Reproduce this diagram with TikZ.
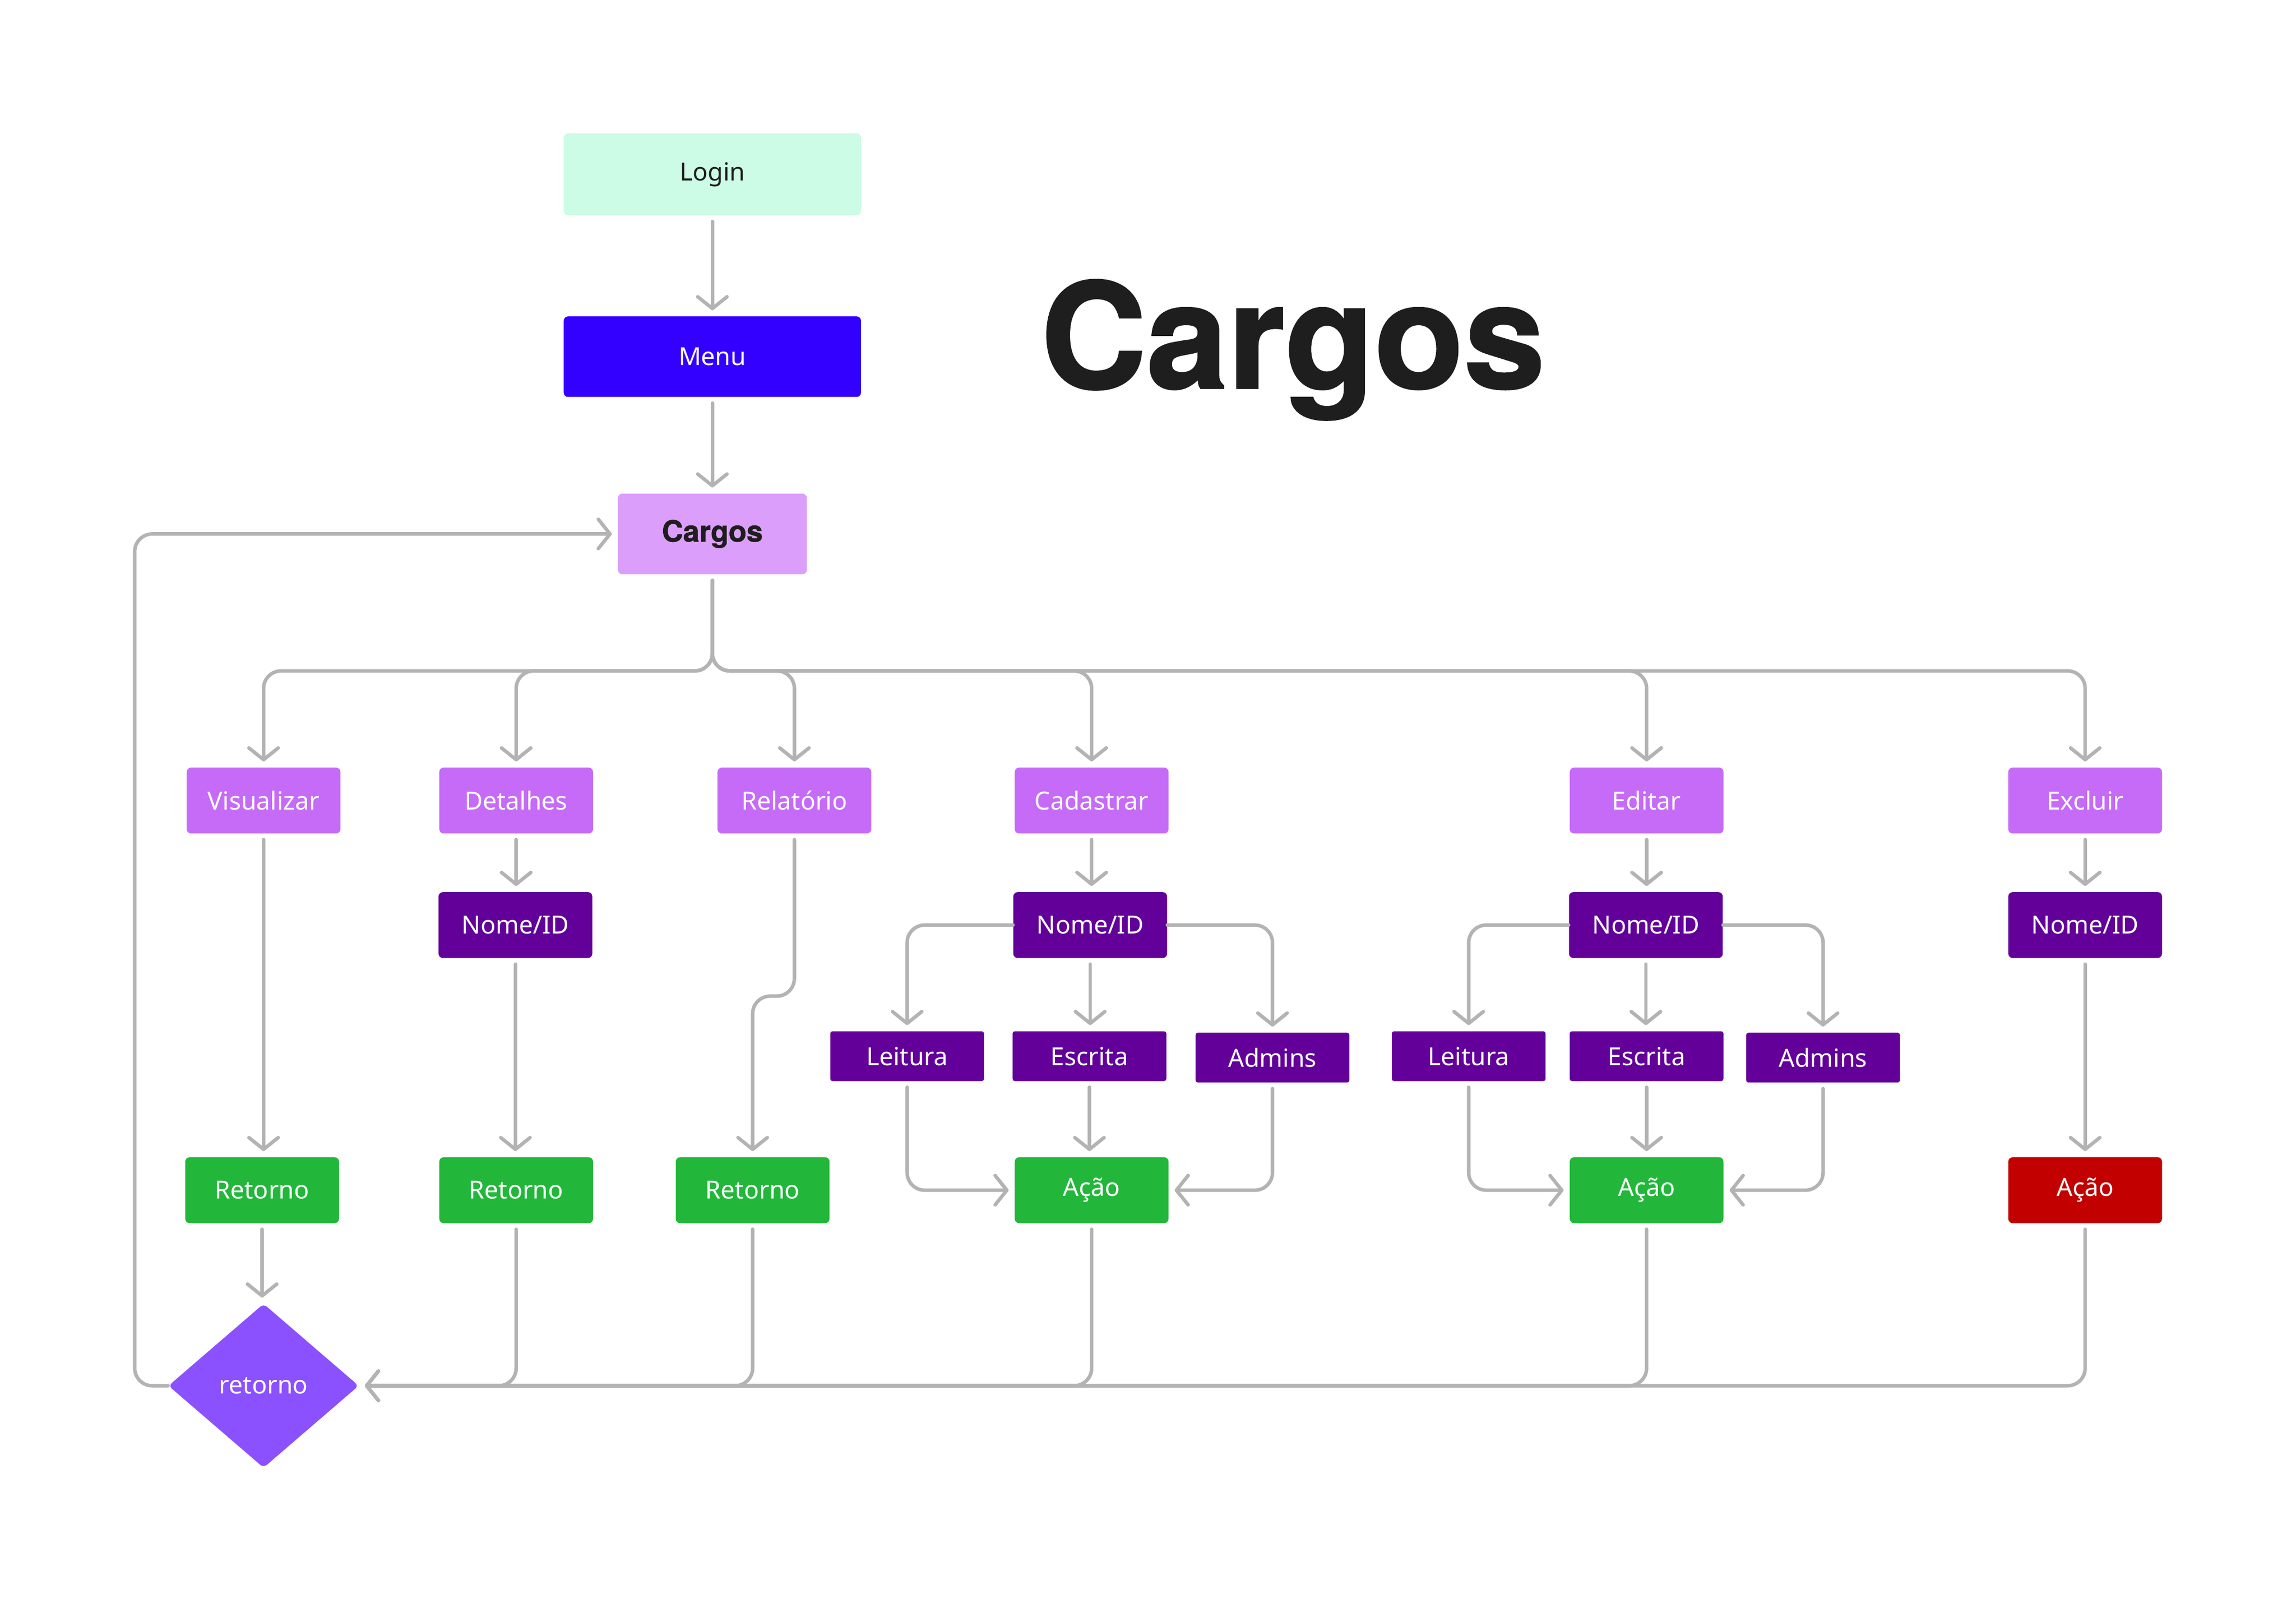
\documentclass[tikz,border=0pt]{standalone}
\usepackage{fontspec}
\setmainfont{Noto Sans}
\newfontfamily\titlefont{TeX Gyre Heros}[BoldFeatures={FakeBold=1.2}]
\usetikzlibrary{arrows.meta,shapes.geometric}
\definecolor{loginfill}{HTML}{CCFCE5}
\definecolor{menufill}{HTML}{3300FF}
\definecolor{cargosfill}{HTML}{DC9EFB}
\definecolor{midpurple}{HTML}{C56BF7}
\definecolor{darkpurple}{HTML}{620099}
\definecolor{okgreen}{HTML}{22B73A}
\definecolor{badred}{HTML}{C20000}
\definecolor{diamondfill}{HTML}{8B51FF}
\definecolor{linegray}{HTML}{B3B3B3}
\definecolor{inkdark}{HTML}{1E1E1E}
\begin{document}
\begin{tikzpicture}[x=1pt,y=-1pt,
  box/.style={rectangle, rounded corners=3pt, inner sep=0pt, minimum width=105pt, minimum height=45pt,
    text=white, font=\fontsize{17}{20}\selectfont},
  topbox/.style={box, minimum width=203pt, minimum height=56pt},
  midbox/.style={box, fill=midpurple},
  idbox/.style={box, fill=darkpurple},
  rolebox/.style={box, fill=darkpurple, minimum height=34pt, rounded corners=1.5pt},
  okbox/.style={box, fill=okgreen},
  redbox/.style={box, fill=badred},
  conn/.style={draw=linegray, line width=2.4pt, line cap=round, rounded corners=12pt,
    -{Straight Barb[length=8pt,width=20pt,round]}, shorten >=4pt, shorten <=4pt}
]
\useasboundingbox (0,0) rectangle (1568,1094);
\fill[white] (0,0) rectangle (1568,1094);

% title
\node[anchor=base, text=inkdark, font=\titlefont\bfseries\fontsize{100}{120}\selectfont, inner sep=0pt] (title) at (883,265) {Cargos};

% top chain
\node[topbox, fill=loginfill, text=inkdark] (login) at (486.5,119) {Login};
\node[topbox, fill=menufill, minimum height=55pt] (menu) at (486.5,243.5) {Menu};
\node[box, fill=cargosfill, text=inkdark, minimum width=129pt, minimum height=55pt,
  font=\titlefont\bfseries\fontsize{20}{24}\selectfont] (cargos) at (486.5,364.5) {Cargos};

% second row
\node[midbox] (vis) at (180,546.5) {Visualizar};
\node[midbox] (det) at (352.5,546.5) {Detalhes};
\node[midbox] (rel) at (542.5,546.5) {Relatório};
\node[midbox] (cad) at (745.5,546.5) {Cadastrar};
\node[midbox] (edi) at (1124.5,546.5) {Editar};
\node[midbox] (exc) at (1424,546.5) {Excluir};

% Nome/ID row
\node[idbox] (nd) at (352,631.5) {Nome/ID};
\node[idbox] (nc) at (744.5,631.5) {Nome/ID};
\node[idbox] (ne) at (1124,631.5) {Nome/ID};
\node[idbox] (nx) at (1424,631.5) {Nome/ID};

% role rows
\node[rolebox] (lc) at (619.5,721) {Leitura};
\node[rolebox] (ec) at (744,721) {Escrita};
\node[rolebox] (adc) at (869,722) {Admins};
\node[rolebox] (le) at (1003,721) {Leitura};
\node[rolebox] (ee) at (1124.5,721) {Escrita};
\node[rolebox] (ade) at (1245,722) {Admins};

% bottom row
\node[okbox] (r1) at (179,812.5) {Retorno};
\node[okbox] (r2) at (352.5,812.5) {Retorno};
\node[okbox] (r3) at (514,812.5) {Retorno};
\node[okbox] (ac1) at (745.5,812.5) {Ação};
\node[okbox] (ac2) at (1124.5,812.5) {Ação};
\node[redbox] (ac3) at (1424,812.5) {Ação};

% diamond
\node[diamond, fill=diamondfill, inner sep=0pt, minimum width=130pt, minimum height=112pt,
  rounded corners=3pt, text=white, font=\fontsize{17}{20}\selectfont] (ret) at (180,946) {retorno};

% coordinates
\coordinate (bus) at (486.5,458);
\coordinate (jog) at (542.5,680);
\coordinate (loopc) at (92,946);

% top chain connectors
\draw[conn] (login.south) -- (menu.north);
\draw[conn] (menu.south) -- (cargos.north);

% bus to second row
\foreach \t in {vis,det,rel,cad,edi,exc}{
  \draw[conn] (cargos.south) -- (bus) -| (\t.north);
}

% left loop back to Cargos
\draw[conn, shorten <=0pt] (ret.west) -- (loopc) |- (cargos.west);

% Visualizar
\draw[conn] (vis.south) -- (vis.south |- r1.north);
\draw[conn] (r1.south) -- (r1.south |- ret.north);

% Detalhes
\draw[conn] (det.south) -- (det.south |- nd.north);
\draw[conn] (nd.south) -- (nd.south |- r2.north);

% Relatorio
\draw[conn] (rel.south) -- (jog) -| (r3.north);

% Cadastrar
\draw[conn] (cad.south) -- (cad.south |- nc.north);
\draw[conn, shorten <=0pt] (nc.west) -| (lc.north);
\draw[conn] (nc.south) -- (nc.south |- ec.north);
\draw[conn, shorten <=0pt] (nc.east) -| (adc.north);
\draw[conn] (lc.south) |- (ac1.west);
\draw[conn] (ec.south) -- (ec.south |- ac1.north);
\draw[conn] (adc.south) |- (ac1.east);

% Editar
\draw[conn] (edi.south) -- (edi.south |- ne.north);
\draw[conn, shorten <=0pt] (ne.west) -| (le.north);
\draw[conn] (ne.south) -- (ne.south |- ee.north);
\draw[conn, shorten <=0pt] (ne.east) -| (ade.north);
\draw[conn] (le.south) |- (ac2.west);
\draw[conn] (ee.south) -- (ee.south |- ac2.north);
\draw[conn] (ade.south) |- (ac2.east);

% Excluir
\draw[conn] (exc.south) -- (nx.north);
\draw[conn] (nx.south) -- (ac3.north);

% returns to diamond
\foreach \t in {r2,r3,ac1,ac2,ac3}{
  \draw[conn] (\t.south) |- (ret.east);
}
\end{tikzpicture}
\end{document}
